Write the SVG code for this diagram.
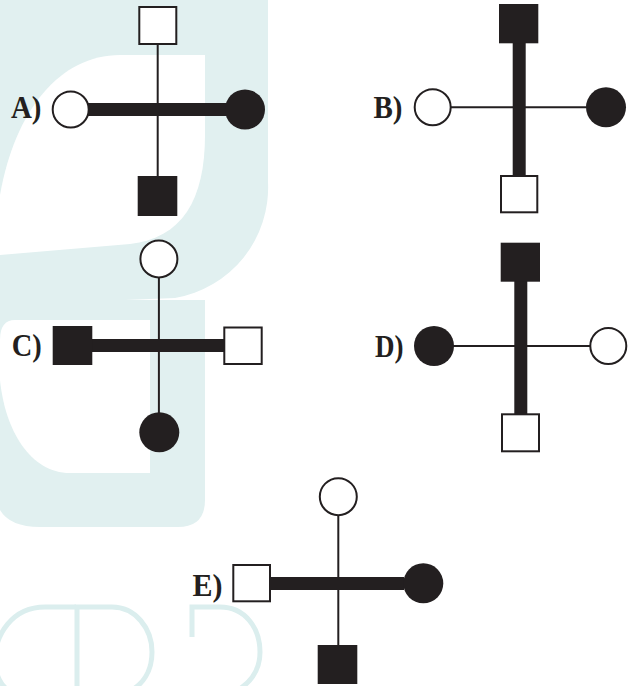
<svg xmlns="http://www.w3.org/2000/svg" width="638" height="686" viewBox="0 0 638 686">
<style>
.wm{fill:#e1f0f0;stroke:none}
.wc{fill:#ffffff;stroke:none}
.wl{fill:none;stroke:#dbeeee;stroke-width:5}
.thin{stroke:#231f20;stroke-width:2;fill:none}
.bar{fill:#231f20}
.open{fill:#ffffff;stroke:#231f20;stroke-width:2}
.full{fill:#231f20;stroke:none}
.lbl{font-family:'Liberation Serif','Times New Roman',Times,serif;font-weight:700;font-size:31px;fill:#231f20}
</style>
<rect width="638" height="686" fill="#ffffff"/>
<g id="watermark">
<path class="wm" d="M0,0 H268 V182 A112 112 0 0 1 175,298 L0,305 Z"/>
<path class="wc" d="M205,55 V135 C205,200 182,238 130,244 L0,255 V195 C15,110 60,55 120,55 Z"/>
<path class="wm" d="M0,300 H205 V500 Q205,527 178,527 H40 Q10,527 0,510 Z"/>
<path class="wc" d="M15,320 H150 V473 H70 C30,473 5,430 0,380 V340 Q0,320 15,320 Z"/>
<path class="wl" d="M76,607 H45 C12,607 -5,635 -5,660 C-5,676 2,686 8,690"/>
<path class="wl" d="M77,690 V607 H112 C135,607 152,628 152,652 C152,672 142,684 132,690"/>
<path class="wl" d="M192,637 V607 H220 C245,607 260,628 260,652 C260,672 248,684 238,690"/>
</g>
<g id="connectors">
<line class="thin" x1="157.7" y1="44" x2="157.7" y2="176"/>
<rect class="bar" x="88" y="103" width="157" height="13"/>
<line class="thin" x1="451" y1="107.3" x2="586" y2="107.3"/>
<rect class="bar" x="512.7" y="43" width="13" height="133"/>
<line class="thin" x1="158.9" y1="278" x2="158.9" y2="413"/>
<rect class="bar" x="92" y="339" width="132" height="13"/>
<line class="thin" x1="453" y1="346" x2="590" y2="346"/>
<rect class="bar" x="514.3" y="281" width="13" height="133"/>
<line class="thin" x1="338.3" y1="515" x2="338.3" y2="645"/>
<rect class="bar" x="270" y="577" width="134" height="13"/>
</g>
<g id="A">
<text class="lbl" x="11" y="118.3" textLength="30.5" lengthAdjust="spacingAndGlyphs">A)</text>
<rect id="A-top" class="open" x="139.3" y="7" width="37" height="37"/>
<circle id="A-left" class="open" cx="70.7" cy="109.5" r="18"/>
<circle id="A-right" class="full" cx="245" cy="109.5" r="20"/>
<rect id="A-bottom" class="full" x="137.7" y="176" width="39.6" height="40"/>
</g>
<g id="B">
<text class="lbl" x="373.5" y="118.3" textLength="29" lengthAdjust="spacingAndGlyphs">B)</text>
<rect id="B-top" class="full" x="499" y="4" width="39.3" height="39.3"/>
<circle id="B-left" class="open" cx="432.7" cy="107.3" r="18"/>
<circle id="B-right" class="full" cx="606" cy="107.3" r="20"/>
<rect id="B-bottom" class="open" x="501" y="176" width="36.3" height="36.3"/>
</g>
<g id="C">
<text class="lbl" x="11.7" y="356" textLength="30" lengthAdjust="spacingAndGlyphs">C)</text>
<circle id="C-top" class="open" cx="158.9" cy="259" r="18.5"/>
<rect id="C-left" class="full" x="52.7" y="326" width="39.6" height="39"/>
<rect id="C-right" class="open" x="224.3" y="327.5" width="37.4" height="36.5"/>
<circle id="C-bottom" class="full" cx="159.3" cy="432.3" r="20"/>
</g>
<g id="D">
<text class="lbl" x="375" y="356.7" textLength="28.5" lengthAdjust="spacingAndGlyphs">D)</text>
<rect id="D-top" class="full" x="500.7" y="242.7" width="39.3" height="39"/>
<circle id="D-left" class="full" cx="434" cy="346" r="20"/>
<circle id="D-right" class="open" cx="608.3" cy="346" r="18"/>
<rect id="D-bottom" class="open" x="502" y="414.3" width="37" height="37"/>
</g>
<g id="E">
<text class="lbl" x="192.5" y="595.7" textLength="30" lengthAdjust="spacingAndGlyphs">E)</text>
<circle id="E-top" class="open" cx="338.3" cy="496.7" r="18.5"/>
<rect id="E-left" class="open" x="233.3" y="565" width="36.7" height="36.3"/>
<circle id="E-right" class="full" cx="423.3" cy="583.3" r="20"/>
<rect id="E-bottom" class="full" x="317.7" y="645" width="39.6" height="39"/>
</g>
</svg>
